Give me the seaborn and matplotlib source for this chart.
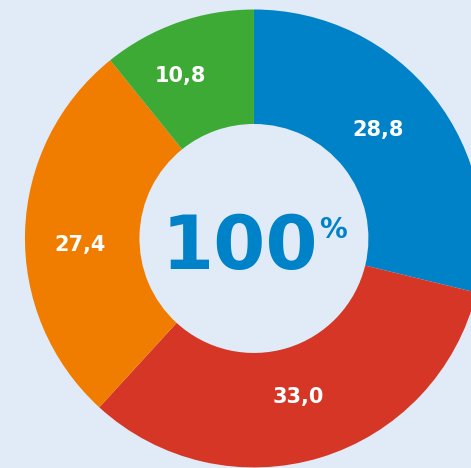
import matplotlib
matplotlib.use("Agg")
import matplotlib.pyplot as plt
import seaborn as sns
import numpy as np

# data, clockwise from 12 o'clock
shares = [28.8, 33.0, 27.4, 10.8]
colors = ["#0082C8", "#D63626", "#F07D00", "#3DAA35"]
center_number = "100"
center_unit = "%"

bg = "#E1EBF8"

sns.set_theme(style="white")
plt.rcParams["font.family"] = ["DejaVu Sans"]

fig = plt.figure(figsize=(4.71, 4.68), dpi=100)
fig.patch.set_facecolor(bg)
ax = fig.add_axes([0, 0, 1, 1])
ax.set_facecolor(bg)

palette = sns.color_palette(colors)

wedges, texts, autotexts = ax.pie(
    shares,
    colors=palette,
    startangle=90,
    counterclock=False,
    radius=1.0,
    wedgeprops=dict(width=0.5, edgecolor="none"),
    autopct=lambda p: f"{p:.1f}".replace(".", ","),
    pctdistance=0.72,
    textprops=dict(color="white", fontsize=15, fontweight="bold"),
)

# labels in the reference sit a little off the exact mid-angle
label_r = [0.72, 0.72, 0.76, 0.78]
label_dtheta = [3, -1.5, 4, 5]
for w, t, r, d in zip(wedges, autotexts, label_r, label_dtheta):
    ang = np.deg2rad((w.theta1 + w.theta2) / 2 + d)
    t.set_position((r * np.cos(ang), r * np.sin(ang)))

# centre label
ax.text(-0.06, -0.042, center_number, ha="center", va="center",
        fontsize=54, fontweight="heavy", color="#0082C8")
ax.text(0.345, 0.035, center_unit, ha="center", va="center",
        fontsize=20, fontweight="heavy", color="#0082C8")

# position the donut as in the reference (partly cut off at right/bottom)
ax.set_xlim(-1.109, 0.948)
ax.set_ylim(-1.002, 1.041)
ax.set_aspect("equal")
ax.axis("off")

plt.savefig("out.png", dpi=100, facecolor=bg)
plt.close()
